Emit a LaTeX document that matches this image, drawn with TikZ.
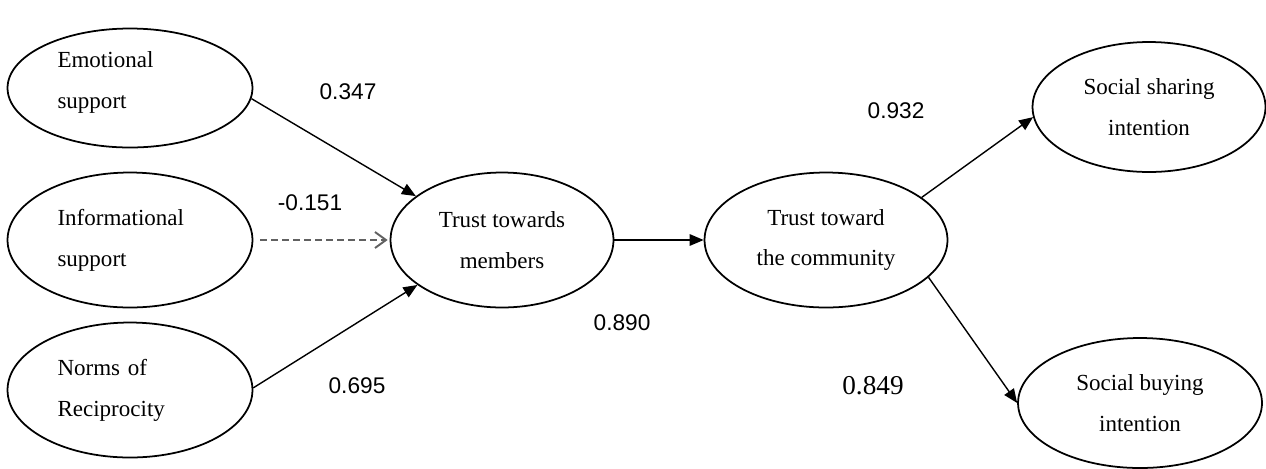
\documentclass[tikz,border=0pt]{standalone}
\usepackage{fontspec}
\setmainfont{Liberation Serif}
\setsansfont{Liberation Sans}
\usetikzlibrary{arrows.meta,positioning,shapes.geometric}

\begin{document}
\begin{tikzpicture}[
x=0.02cm, y=-0.02cm,
latent/.style={draw, ellipse, line width=1pt, inner sep=0pt, font=\fontsize{13.1}{23.3}\selectfont},
leftlat/.style={latent, text width=2.9cm, align=left},
midlat/.style={latent, align=center},
arrow/.style={-{Triangle[length=0.28cm, width=0.23cm]}, line width=0.8pt},
weak/.style={-{Straight Barb[length=0.22cm, width=0.32cm]}, line width=1.1pt, draw=black!62, dash pattern=on 0.14cm off 0.08cm},
coef/.style={font=\sffamily\fontsize{12.9}{14}\selectfont}
]
\useasboundingbox (0,0) rectangle (1266,468);

% exogenous constructs
\node[leftlat, text depth=1.12cm, minimum width=4.9cm, minimum height=2.38cm] (emo) at (130,88) {Emotional\\support};
\node[leftlat, minimum width=4.9cm, minimum height=2.7cm] (info) at (130,240) {Informational\\support};
\node[leftlat, minimum width=4.9cm, minimum height=2.7cm] (norm) at (130,390) {Norms of\\Reciprocity};

% mediators
\node[midlat, minimum width=4.46cm, minimum height=2.7cm] (member) at (502,240) {Trust towards\\members};
\node[midlat, minimum width=4.86cm, minimum height=2.7cm] (comm) at (826,240) {Trust toward\\the community};

% outcomes
\node[midlat, minimum width=4.66cm, minimum height=2.6cm] (share) at (1149,107) {Social sharing\\intention};
\node[midlat, minimum width=4.88cm, minimum height=2.6cm] (buy) at (1140,403) {Social buying\\intention};

\draw[arrow] (emo.-5) -- (member.153);
\draw[weak, shorten <=0.14cm, shorten >=0.04cm] (info.east) -- (member.west);
\draw[arrow] (norm.1) -- (member.208);
\draw[arrow] (member.east) -- (comm.west);
\draw[arrow] (comm.24) -- (share.185);
\draw[arrow] (comm.-20) -- (buy.west);

% path coefficients
\node[coef] (c1) at (348,92) {0.347};
\node[coef] (c2) at (310,203) {-0.151};
\node[coef] (c3) at (357,386) {0.695};
\node[coef] (c4) at (622,323) {0.890};
\node[coef] (c5) at (896,111) {0.932};
\node[font=\fontsize{15.5}{17}\selectfont] (c6) at (873,386) {0.849};
\end{tikzpicture}
\end{document}
